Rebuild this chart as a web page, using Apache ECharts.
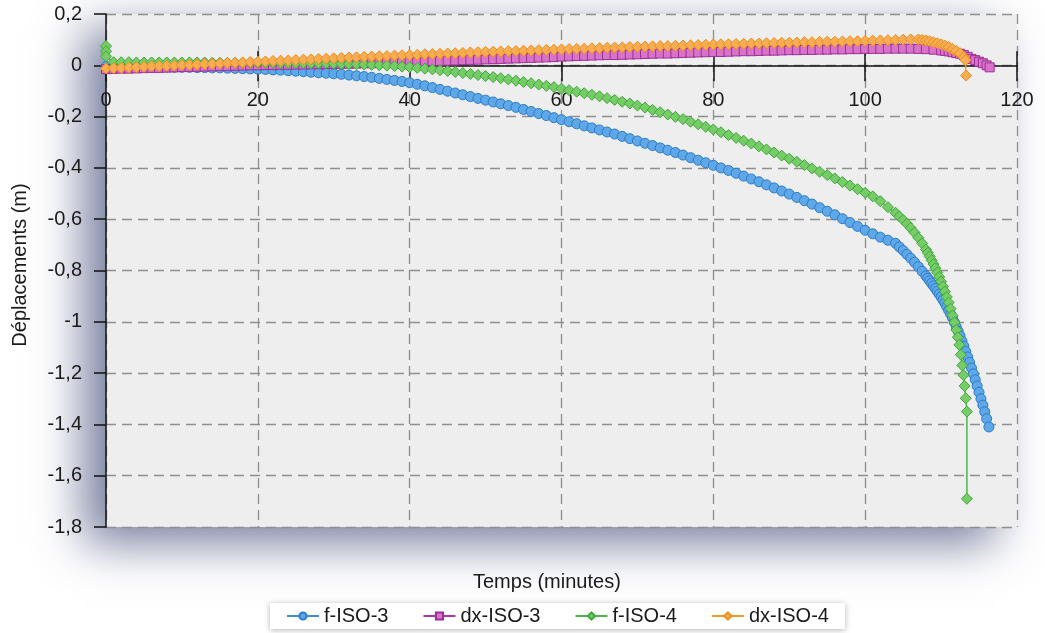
<!DOCTYPE html>
<html>
<head>
<meta charset="utf-8">
<title>Déplacements</title>
<script src="https://cdn.jsdelivr.net/npm/echarts@6/dist/echarts.min.js"></script>
<style>
  html, body { margin: 0; padding: 0; background: #fff; }
  #main { width: 1045px; height: 633px; }
</style>
</head>
<body>
<div id="main"></div>
<script>
// pas de temps communs (minutes)
var minutes = [0,1,2,3,4,5,6,7,8,9,10,11,12,13,14,15,16,17,18,19,20,21,22,23,24,25,26,27,28,29,30,
  31,32,33,34,35,36,37,38,39,40,41,42,43,44,45,46,47,48,49,50,51,52,53,54,55,56,57,58,59,60,
  61,62,63,64,65,66,67,68,69,70,71,72,73,74,75,76,77,78,79,80,81,82,83,84,85,86,87,88,89,90,
  91,92,93,94,95,96,97,98,99,100,101,102,103,104];

// f-ISO-3
var fIso3 = [-0.005,-0.005,-0.005,-0.006,-0.006,-0.006,-0.007,-0.007,-0.007,-0.008,-0.008,-0.008,-0.009,-0.009,-0.010,-0.010,-0.011,-0.012,-0.013,-0.014,-0.015,
  -0.016,-0.018,-0.019,-0.021,-0.023,-0.025,-0.027,-0.029,-0.031,-0.033,-0.035,-0.038,-0.041,-0.044,-0.047,-0.051,-0.055,-0.059,-0.063,-0.068,
  -0.074,-0.080,-0.087,-0.094,-0.101,-0.108,-0.115,-0.122,-0.129,-0.136,-0.143,-0.150,-0.157,-0.164,-0.172,-0.180,-0.188,-0.196,-0.204,-0.212,
  -0.220,-0.228,-0.236,-0.244,-0.252,-0.260,-0.268,-0.277,-0.286,-0.295,-0.304,-0.313,-0.322,-0.331,-0.340,-0.350,-0.360,-0.370,-0.380,-0.390,
  -0.400,-0.410,-0.421,-0.432,-0.443,-0.454,-0.466,-0.478,-0.490,-0.502,-0.515,-0.528,-0.541,-0.555,-0.569,-0.583,-0.598,-0.613,-0.628,-0.643,
  -0.657,-0.670,-0.682,-0.694];
var fIso3TailT = [104.5,105,105.5,106,106.5,107,107.5,108,108.25,108.5,108.75,109,109.25,109.5,109.75,110,110.25,110.5,110.75,111,111.25,111.5,111.75,
  112,112.25,112.5,112.75,113,113.25,113.5,113.75,114,114.25,114.5,114.75,115,115.25,115.5,115.75,116,116.3];
var fIso3Tail = [-0.708,-0.722,-0.737,-0.752,-0.768,-0.785,-0.803,-0.821,-0.830,-0.840,-0.850,-0.860,-0.870,-0.881,-0.892,-0.903,-0.915,-0.927,-0.941,-0.955,-0.970,-0.985,-1.002,
  -1.020,-1.037,-1.055,-1.075,-1.095,-1.116,-1.137,-1.158,-1.180,-1.203,-1.226,-1.250,-1.275,-1.300,-1.325,-1.351,-1.378,-1.410];

// dx-ISO-3
var dxIso3 = [-0.015,-0.014,-0.013,-0.013,-0.012,-0.011,-0.010,-0.010,-0.009,-0.008,-0.007,-0.006,-0.006,-0.005,-0.004,-0.003,-0.003,-0.002,-0.001,0.000,0.000,
  0.001,0.001,0.002,0.002,0.003,0.003,0.004,0.004,0.005,0.005,0.006,0.006,0.007,0.008,0.008,0.009,0.010,0.011,0.012,0.013,
  0.014,0.015,0.016,0.017,0.018,0.019,0.020,0.021,0.022,0.023,0.024,0.025,0.026,0.027,0.028,0.029,0.030,0.031,0.032,0.034,
  0.035,0.036,0.037,0.038,0.039,0.040,0.040,0.041,0.042,0.043,0.044,0.045,0.046,0.046,0.047,0.048,0.049,0.050,0.051,0.052,
  0.052,0.053,0.054,0.055,0.055,0.056,0.057,0.057,0.058,0.059,0.059,0.060,0.060,0.061,0.061,0.062,0.062,0.063,0.063,0.064,
  0.064,0.064,0.065,0.065];
var dxIso3TailT = [105,106,107,108,109,110,110.5,111,111.5,112,112.5,113,113.5,114,114.5,115,115.5,116,116.4];
var dxIso3Tail = [0.065,0.065,0.064,0.063,0.061,0.058,0.056,0.054,0.051,0.048,0.045,0.040,0.033,0.025,0.020,0.014,0.008,0.000,-0.008];

// f-ISO-4
var fIso4StartT = [0, 0];
var fIso4Start = [0.075, 0.055];
var fIso4 = [0.035,0.012,0.012,0.012,0.011,0.011,0.011,0.011,0.011,0.011,0.011,0.011,0.011,0.011,0.010,0.010,0.010,0.010,0.010,0.010,0.010,
  0.010,0.010,0.009,0.009,0.009,0.009,0.008,0.008,0.008,0.007,0.006,0.005,0.004,0.003,0.002,0.000,-0.001,-0.003,-0.005,-0.007,
  -0.010,-0.013,-0.016,-0.019,-0.022,-0.026,-0.030,-0.034,-0.038,-0.042,-0.046,-0.050,-0.055,-0.060,-0.065,-0.070,-0.075,-0.080,-0.085,-0.091,
  -0.097,-0.103,-0.109,-0.115,-0.121,-0.128,-0.135,-0.142,-0.149,-0.157,-0.165,-0.174,-0.183,-0.192,-0.201,-0.210,-0.220,-0.230,-0.240,-0.250,
  -0.261,-0.272,-0.283,-0.294,-0.305,-0.316,-0.328,-0.340,-0.352,-0.364,-0.376,-0.389,-0.402,-0.415,-0.428,-0.441,-0.455,-0.469,-0.483,-0.497,
  -0.511,-0.530,-0.553,-0.575];
var fIso4TailT = [104.5,105,105.5,106,106.5,107,107.5,108,108.25,108.5,108.75,109,109.25,109.5,109.75,110,110.25,110.5,110.75,111,111.25,111.5,111.75,
  112,112.2,112.4,112.6,112.8,112.95,113.1,113.25,113.4,113.4];
var fIso4Tail = [-0.589,-0.603,-0.618,-0.634,-0.652,-0.672,-0.694,-0.718,-0.731,-0.745,-0.760,-0.775,-0.791,-0.808,-0.825,-0.843,-0.862,-0.882,-0.903,-0.925,-0.949,-0.975,-1.002,
  -1.032,-1.060,-1.090,-1.128,-1.170,-1.208,-1.250,-1.298,-1.350,-1.690];

// dx-ISO-4
var dxIso4 = [-0.012,-0.011,-0.010,-0.008,-0.007,-0.006,-0.004,-0.003,-0.002,-0.001,0.001,0.002,0.003,0.005,0.006,0.007,0.009,0.010,0.011,0.013,0.014,
  0.015,0.017,0.018,0.019,0.021,0.022,0.023,0.025,0.026,0.027,0.029,0.030,0.031,0.033,0.034,0.035,0.036,0.038,0.039,0.040,
  0.041,0.043,0.044,0.045,0.046,0.047,0.048,0.050,0.051,0.052,0.053,0.054,0.055,0.056,0.057,0.058,0.059,0.060,0.061,0.062,
  0.063,0.064,0.065,0.066,0.067,0.068,0.069,0.070,0.071,0.072,0.073,0.074,0.075,0.075,0.076,0.077,0.078,0.079,0.080,0.081,
  0.082,0.082,0.083,0.084,0.085,0.085,0.086,0.087,0.088,0.088,0.089,0.090,0.090,0.091,0.092,0.092,0.093,0.094,0.094,0.095,
  0.096,0.097,0.098,0.099];
var dxIso4TailT = [105,106,107,107.5,108,108.5,109,109.5,110,110.5,111,111.5,112,112.5,113,113.2,113.3];
var dxIso4Tail = [0.100,0.101,0.101,0.099,0.097,0.094,0.090,0.086,0.082,0.077,0.071,0.064,0.056,0.047,0.032,0.020,-0.040];

var pairs = function (t, v) {
    return t.map(function (x, i) { return [x, v[i]]; });
};

var font = 'Liberation Sans, Arial, Helvetica, sans-serif';
// axe des x posé sur y = 0 : 513 px de haut, 0 à 0,2/2,0 du haut
var zeroOffset = -513 * 0.9;

var serie = function (name, data, line, fill, border, symbol, size) {
    return {
        name: name,
        type: 'line',
        data: data,
        symbol: symbol,
        symbolSize: size,
        showSymbol: true,
        lineStyle: { color: line, width: 1.5 },
        itemStyle: { color: fill, borderColor: border, borderWidth: 1 },
        emphasis: { disabled: true }
    };
};

var chart = echarts.init(document.getElementById('main'));
var option = {
    animation: false,
    backgroundColor: '#ffffff',
    textStyle: { fontFamily: font },
    grid: {
        left: 106,
        right: 28,
        top: 14,
        bottom: 106,
        show: true,
        backgroundColor: '#eeeeee',
        borderWidth: 0,
        shadowColor: 'rgba(60, 70, 115, 0.7)',
        shadowBlur: 45,
        shadowOffsetX: -22,
        shadowOffsetY: 16
    },
    legend: {
        left: 270,
        top: 603,
        itemWidth: 32,
        itemHeight: 9,
        itemGap: 34,
        padding: [3, 16],
        backgroundColor: '#ffffff',
        shadowColor: 'rgba(0,0,0,0.3)',
        shadowBlur: 6,
        shadowOffsetY: 1,
        textStyle: { fontSize: 20, color: '#1a1a1a', fontFamily: font },
        data: ['f-ISO-3', 'dx-ISO-3', 'f-ISO-4', 'dx-ISO-4']
    },
    xAxis: [{
        type: 'value',
        min: 0,
        max: 120,
        interval: 20,
        offset: zeroOffset,
        axisLine: { onZero: false, lineStyle: { color: '#111', width: 1.5 } },
        axisTick: { show: true, inside: false, length: 16, lineStyle: { color: '#111', width: 1.5 } },
        axisLabel: { margin: 25, fontSize: 20, color: '#1a1a1a', fontFamily: font },
        splitLine: { show: true, lineStyle: { color: '#8f8f8f', type: [10, 6], width: 1.3 } }
    }, {
        type: 'value',
        min: 0,
        max: 120,
        interval: 20,
        position: 'bottom',
        offset: zeroOffset,
        axisLine: { show: false, onZero: false },
        axisTick: { show: true, inside: true, length: 14, lineStyle: { color: '#111', width: 1.5 } },
        axisLabel: { show: false },
        splitLine: { show: false }
    }],
    yAxis: {
        type: 'value',
        min: -1.8,
        max: 0.2,
        interval: 0.2,
        axisLine: { show: true, onZero: false, lineStyle: { color: '#111', width: 1.5 } },
        axisTick: { show: true, inside: false, length: 12, lineStyle: { color: '#111', width: 1.5 } },
        axisLabel: {
            margin: 24,
            fontSize: 20,
            color: '#1a1a1a',
            fontFamily: font,
            formatter: function (v) {
                return String(parseFloat(v.toFixed(1))).replace('.', ',');
            }
        },
        splitLine: { show: true, lineStyle: { color: '#8f8f8f', type: [10, 6], width: 1.3 } }
    },
    graphic: [{
        type: 'text',
        left: 553 - 80,
        top: 572,
        style: { text: 'Temps (minutes)', fontSize: 20, fill: '#1a1a1a', fontFamily: font }
    }, {
        type: 'text',
        x: 20,
        y: 265,
        rotation: Math.PI / 2,
        style: {
            text: 'Déplacements (m)',
            fontSize: 20,
            fill: '#1a1a1a',
            fontFamily: font,
            align: 'center',
            verticalAlign: 'middle'
        }
    }],
    series: [
        serie('f-ISO-3', pairs(minutes, fIso3).concat(pairs(fIso3TailT, fIso3Tail)),
            '#3b8ed8', '#5ea7e8', '#2c7cc9', 'circle', 10),
        serie('dx-ISO-3', pairs(minutes, dxIso3).concat(pairs(dxIso3TailT, dxIso3Tail)),
            '#a63a9e', '#d873c9', '#9c2f96', 'rect', 9),
        serie('f-ISO-4', pairs(fIso4StartT, fIso4Start).concat(pairs(minutes, fIso4), pairs(fIso4TailT, fIso4Tail)),
            '#4db548', '#76cc66', '#3ea83a', 'diamond', 11),
        serie('dx-ISO-4', pairs(minutes, dxIso4).concat(pairs(dxIso4TailT, dxIso4Tail)),
            '#f39a2c', '#f7ae52', '#ee8d1c', 'diamond', 11)
    ]
};
chart.setOption(option);
</script>
</body>
</html>
